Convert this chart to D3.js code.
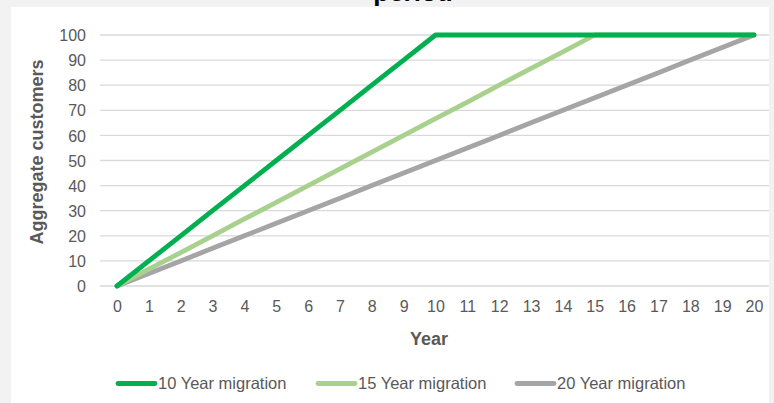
<!DOCTYPE html>
<html><head><meta charset="utf-8">
<script src="https://cdn.jsdelivr.net/npm/d3@7"></script>
<style>
html,body{margin:0;padding:0;background:#f2f2f2;}
svg{display:block;font-family:"Liberation Sans",Arial,sans-serif;}
</style></head>
<body>
<svg id="c" width="774" height="403"></svg>
<script>
const years = d3.range(0, 21);
const seriesNames = ["10 Year migration", "15 Year migration", "20 Year migration"];
const seriesColors = ["#00b050", "#a9d18e", "#a5a5a5"];
const tenYear = [0,10,20,30,40,50,60,70,80,90,100,100,100,100,100,100,100,100,100,100,100];
const fifteenYear = [0,6.7,13.3,20,26.7,33.3,40,46.7,53.3,60,66.7,73.3,80,86.7,93.3,100,100,100,100,100,100];
const twentyYear = [0,5,10,15,20,25,30,35,40,45,50,55,60,65,70,75,80,85,90,95,100];
const yTicks = [0,10,20,30,40,50,60,70,80,90,100];
const titleText = "period";
const xTitle = "Year";
const yTitle = "Aggregate customers";

const data = [tenYear, fifteenYear, twentyYear];
const svg = d3.select("#c");

svg.append("rect").attr("x",11).attr("y",7).attr("width",758).attr("height",396).attr("fill","#fff");

svg.append("text").attr("x",413).attr("y",1).attr("text-anchor","middle")
  .attr("font-size",26).attr("font-weight","bold").attr("fill","#000").text(titleText);

const x = d3.scaleLinear().domain([0,20]).range([117,754]);
const y = d3.scaleLinear().domain([0,100]).range([286,35]);

// gridlines
svg.append("g").selectAll("line").data(yTicks).join("line")
  .attr("x1",100).attr("x2",769).attr("y1",d=>y(d)).attr("y2",d=>y(d))
  .attr("stroke","#d9d9d9").attr("stroke-width",1.3);

// y axis labels
const yAxis = d3.axisLeft(y).tickValues(yTicks).tickSize(0).tickPadding(0);
const gy = svg.append("g").attr("transform","translate(86,0)").call(yAxis);
gy.select(".domain").remove();
gy.selectAll("text").attr("font-size",16).attr("fill","#595959").attr("font-family","Liberation Sans, Arial, sans-serif").attr("dy","0.35em");

// x axis labels
const xAxis = d3.axisBottom(x).tickValues(years).tickSize(0).tickPadding(0).tickFormat(d3.format("d"));
const gx = svg.append("g").attr("transform","translate(0,312)").call(xAxis);
gx.select(".domain").remove();
gx.selectAll("text").attr("font-size",16).attr("fill","#595959").attr("font-family","Liberation Sans, Arial, sans-serif").attr("y",0).attr("dy","0");

// axis titles
svg.append("text").attr("x",429).attr("y",345).attr("text-anchor","middle")
  .attr("font-size",18).attr("font-weight","bold").attr("fill","#595959").text(xTitle);
svg.append("text").attr("transform","translate(43,152) rotate(-90)").attr("text-anchor","middle")
  .attr("font-size",18).attr("font-weight","bold").attr("fill","#595959").text(yTitle);

// lines
const line = d3.line().x((d,i)=>x(years[i])).y(d=>y(d));
[2,1,0].forEach(i=>{
  svg.append("path").datum(data[i]).attr("d",line).attr("fill","none")
    .attr("stroke",seriesColors[i]).attr("stroke-width",4.8)
    .attr("stroke-linejoin","round").attr("stroke-linecap","round");
});

// legend
const legX = [118, 318, 517];
seriesNames.forEach((n,i)=>{
  const g = svg.append("g").attr("transform",`translate(${legX[i]},383.5)`);
  g.append("line").attr("x1",0).attr("x2",37).attr("y1",0).attr("y2",0)
    .attr("stroke",seriesColors[i]).attr("stroke-width",4.8).attr("stroke-linecap","round");
  g.append("text").attr("x",40).attr("y",0).attr("dy","0.35em")
    .attr("font-size",16.5).attr("fill","#595959").text(n);
});
</script>
</body></html>
